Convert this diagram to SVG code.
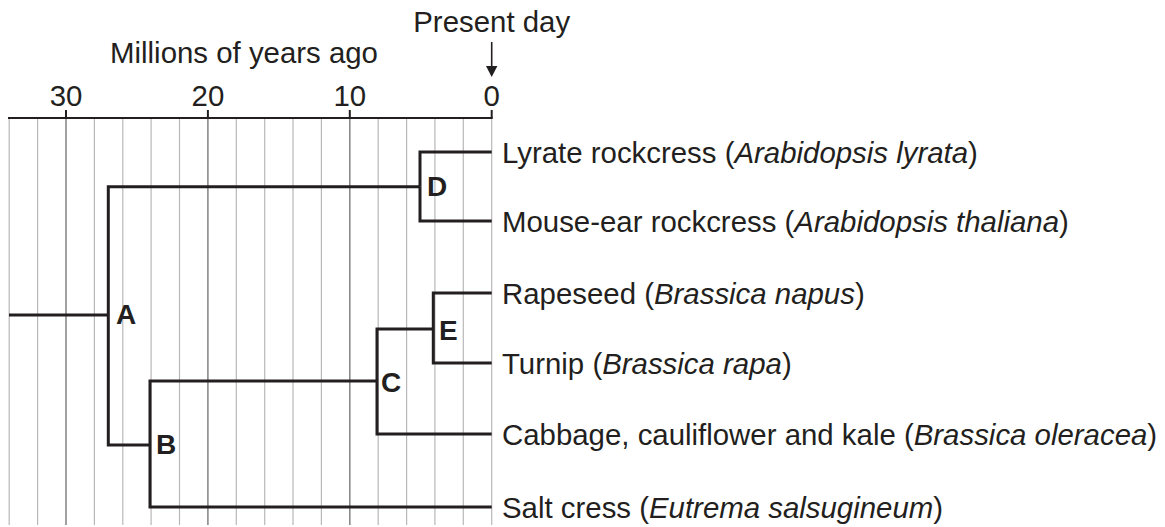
<svg xmlns="http://www.w3.org/2000/svg" width="1165" height="527" viewBox="0 0 1165 527">
<style>
text{font-family:"Liberation Sans",Arial,Helvetica,sans-serif;fill:#231f20}
.t{font-size:29.4px}
.n{font-size:28px;font-weight:bold}
.i{font-style:italic}
.g{stroke:#b8b8b8;stroke-width:1.2;fill:none}
.gm{stroke:#8a8a8a;stroke-width:1.6;fill:none}
.ax{stroke:#231f20;stroke-width:2;fill:none}
.br{stroke:#231f20;stroke-width:3;fill:none;stroke-linejoin:miter;stroke-linecap:butt}
</style>
<rect width="1165" height="527" fill="#fff"/>
<g id="grid">
<line class="g" x1="491.7" y1="118" x2="491.7" y2="525"/>
<line class="g" x1="463.3" y1="118" x2="463.3" y2="525"/>
<line class="g" x1="434.9" y1="118" x2="434.9" y2="525"/>
<line class="g" x1="406.6" y1="118" x2="406.6" y2="525"/>
<line class="g" x1="378.2" y1="118" x2="378.2" y2="525"/>
<line class="gm" x1="349.8" y1="118" x2="349.8" y2="525"/>
<line class="g" x1="321.4" y1="118" x2="321.4" y2="525"/>
<line class="g" x1="293.0" y1="118" x2="293.0" y2="525"/>
<line class="g" x1="264.7" y1="118" x2="264.7" y2="525"/>
<line class="g" x1="236.3" y1="118" x2="236.3" y2="525"/>
<line class="gm" x1="207.9" y1="118" x2="207.9" y2="525"/>
<line class="g" x1="179.5" y1="118" x2="179.5" y2="525"/>
<line class="g" x1="151.1" y1="118" x2="151.1" y2="525"/>
<line class="g" x1="122.8" y1="118" x2="122.8" y2="525"/>
<line class="g" x1="94.4" y1="118" x2="94.4" y2="525"/>
<line class="gm" x1="66.0" y1="118" x2="66.0" y2="525"/>
<line class="g" x1="37.6" y1="118" x2="37.6" y2="525"/>
<line class="g" x1="9.2" y1="118" x2="9.2" y2="525"/>
</g>
<g id="axis">
<line class="ax" x1="8" y1="118" x2="492.7" y2="118"/>
<line class="ax" x1="66" y1="110" x2="66" y2="118"/>
<line class="ax" x1="207.9" y1="110" x2="207.9" y2="118"/>
<line class="ax" x1="349.8" y1="110" x2="349.8" y2="118"/>
<line class="ax" x1="491.7" y1="110" x2="491.7" y2="118"/>
<text class="t" x="66" y="106" text-anchor="middle">30</text>
<text class="t" x="207.9" y="106" text-anchor="middle">20</text>
<text class="t" x="349.8" y="106" text-anchor="middle">10</text>
<text class="t" x="491.7" y="106" text-anchor="middle">0</text>
<text class="t" x="244" y="63" text-anchor="middle">Millions of years ago</text>
<text class="t" x="491.7" y="32" text-anchor="middle">Present day</text>
<line x1="491.7" y1="42" x2="491.7" y2="67" stroke="#231f20" stroke-width="1.6"/>
<polygon points="486,66 497.4,66 491.7,77" fill="#231f20"/>
</g>
<g id="connectors">
<path class="br" d="M9,315 H108.3"/>
<path class="br" d="M108.3,315 V186.7 H420"/>
<path class="br" d="M108.3,315 V445 H150"/>
<path class="br" d="M420,186.7 V152 H491.7"/>
<path class="br" d="M420,186.7 V221 H491.7"/>
<path class="br" d="M150,445 V381 H377"/>
<path class="br" d="M150,445 V507 H491.7"/>
<path class="br" d="M377,381 V329 H433.3"/>
<path class="br" d="M377,381 V434 H491.7"/>
<path class="br" d="M433.3,329 V293 H491.7"/>
<path class="br" d="M433.3,329 V363 H491.7"/>
</g>
<g id="node-A"><text class="n" x="116" y="324">A</text></g>
<g id="node-B"><text class="n" x="156" y="454">B</text></g>
<g id="node-C"><text class="n" x="381" y="392">C</text></g>
<g id="node-D"><text class="n" x="427" y="196">D</text></g>
<g id="node-E"><text class="n" x="439" y="340">E</text></g>
<g id="leaf-lyrata"><text class="t" x="502" y="162.5">Lyrate rockcress (<tspan class="i">Arabidopsis lyrata</tspan>)</text></g>
<g id="leaf-thaliana"><text class="t" x="502" y="231.5">Mouse-ear rockcress (<tspan class="i">Arabidopsis thaliana</tspan>)</text></g>
<g id="leaf-napus"><text class="t" x="502" y="303.5">Rapeseed (<tspan class="i">Brassica napus</tspan>)</text></g>
<g id="leaf-rapa"><text class="t" x="502" y="373.5">Turnip (<tspan class="i">Brassica rapa</tspan>)</text></g>
<g id="leaf-oleracea"><text class="t" x="502" y="444.5">Cabbage, cauliflower and kale (<tspan class="i">Brassica oleracea</tspan>)</text></g>
<g id="leaf-salsugineum"><text class="t" x="502" y="517.5">Salt cress (<tspan class="i">Eutrema salsugineum</tspan>)</text></g>
</svg>
